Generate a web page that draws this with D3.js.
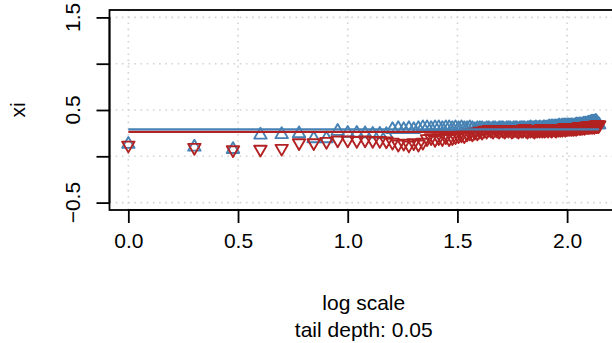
<!DOCTYPE html>
<html><head><meta charset="utf-8">
<script src="https://cdn.jsdelivr.net/npm/d3@7"></script>
<style>html,body{margin:0;padding:0;background:#fff;} svg{display:block;}</style>
</head><body>
<script>
// n = 1..140, x = log10(n)
const upperXi = [
0.13,0.10,0.075,0.23,0.235,0.245,0.19,0.19,0.27,0.25,
0.25,0.245,0.24,0.24,0.235,0.29,0.30,0.29,0.30,0.29,
0.30,0.31,0.31,0.30,0.31,0.31,0.30,0.31,0.31,0.30,
0.31,0.30,0.31,0.30,0.30,0.31,0.30,0.29,0.30,0.30,
0.30,0.29,0.30,0.30,0.29,0.30,0.30,0.29,0.30,0.30,
0.30,0.29,0.30,0.30,0.30,0.29,0.30,0.30,0.30,0.29,
0.30,0.30,0.30,0.30,0.29,0.30,0.30,0.31,0.30,0.30,
0.30,0.31,0.30,0.30,0.31,0.30,0.30,0.31,0.31,0.30,
0.31,0.31,0.32,0.31,0.32,0.32,0.31,0.32,0.32,0.32,
0.32,0.33,0.32,0.32,0.33,0.32,0.33,0.33,0.32,0.33,
0.33,0.33,0.32,0.33,0.33,0.33,0.32,0.33,0.33,0.34,
0.33,0.34,0.33,0.34,0.34,0.33,0.34,0.34,0.35,0.34,
0.35,0.35,0.34,0.35,0.36,0.35,0.36,0.36,0.37,0.36,
0.37,0.37,0.36,0.37,0.38,0.37,0.36,0.35,0.34,0.34];
const lowerXi = [
0.12,0.095,0.07,0.075,0.085,0.145,0.145,0.16,0.175,0.175,
0.17,0.175,0.17,0.17,0.165,0.15,0.13,0.14,0.12,0.145,
0.13,0.15,0.19,0.20,0.18,0.20,0.19,0.21,0.19,0.20,
0.21,0.22,0.23,0.22,0.24,0.25,0.24,0.26,0.25,0.27,
0.26,0.28,0.27,0.29,0.28,0.27,0.29,0.28,0.27,0.29,
0.28,0.27,0.29,0.28,0.29,0.27,0.28,0.29,0.28,0.27,
0.29,0.28,0.28,0.30,0.28,0.27,0.29,0.28,0.29,0.28,
0.27,0.29,0.28,0.29,0.28,0.30,0.28,0.29,0.28,0.29,
0.29,0.28,0.30,0.29,0.28,0.29,0.30,0.29,0.28,0.30,
0.29,0.30,0.29,0.30,0.29,0.30,0.31,0.29,0.30,0.30,
0.30,0.31,0.30,0.31,0.30,0.31,0.30,0.31,0.31,0.30,
0.31,0.31,0.32,0.31,0.31,0.32,0.31,0.32,0.32,0.31,
0.32,0.32,0.33,0.32,0.32,0.33,0.32,0.33,0.33,0.32,
0.33,0.33,0.32,0.33,0.34,0.33,0.33,0.34,0.33,0.34];
const upperLevel = 0.29;
const lowerLevel = 0.264;
const xTicks = [0, 0.5, 1.0, 1.5, 2.0];
const xTickLabels = ["0.0", "0.5", "1.0", "1.5", "2.0"];
const yTicks = [-0.5, 0, 0.5, 1.0, 1.5];
const yTickLabels = ["\u22120.5", "", "0.5", "", "1.5"];
const xLabel = "log scale";
const subLabel = "tail depth: 0.05";
const yLabel = "xi";

(function () {
const W = 612, H = 343;
const pL = 109.5, pR = 618, pT = 10, pB = 210;
const n = upperXi.length;
const xs = d3.range(1, n + 1).map(k => Math.log10(k));
const xMax = d3.max(xs);
const x = d3.scaleLinear().domain([-0.04 * xMax, xMax * 1.04]).range([pL, pR]);
const y = d3.scaleLinear().domain([-0.58, 1.58]).range([pB, pT]);

const svg = d3.select("body").append("svg").attr("width", W).attr("height", H);
const font = "'Liberation Sans', Arial, Helvetica, sans-serif";
const FS = 21;
const blue = "#4682B4", red = "#B22222";

// grid
const g = svg.append("g").attr("stroke", "#D3D3D3").attr("stroke-width", 1.6).attr("stroke-dasharray", "1.6,4.6");
g.selectAll(".gx").data(xTicks).join("line").attr("class", "gx")
  .attr("x1", d => x(d)).attr("x2", d => x(d)).attr("y1", pT).attr("y2", pB);
g.selectAll(".gy").data(yTicks).join("line").attr("class", "gy")
  .attr("x1", pL).attr("x2", pR).attr("y1", d => y(d)).attr("y2", d => y(d));

const r = 7.2;
const upPath = `M0,${-r}L${0.866*r},${0.5*r}L${-0.866*r},${0.5*r}Z`;
const downPath = `M0,${r}L${0.866*r},${-0.5*r}L${-0.866*r},${-0.5*r}Z`;

svg.append("g").selectAll("path").data(upperXi).join("path")
  .attr("d", upPath)
  .attr("transform", (d, i) => `translate(${x(xs[i])},${y(d)})`)
  .attr("fill", "none").attr("stroke", blue).attr("stroke-width", 1.9).attr("stroke-linejoin", "round");
svg.append("g").selectAll("path").data(lowerXi).join("path")
  .attr("d", downPath)
  .attr("transform", (d, i) => `translate(${x(xs[i])},${y(d)})`)
  .attr("fill", "none").attr("stroke", red).attr("stroke-width", 1.9).attr("stroke-linejoin", "round");

// level lines
svg.append("line").attr("x1", x(0)).attr("x2", x(xMax)).attr("y1", y(lowerLevel)).attr("y2", y(lowerLevel))
  .attr("stroke", red).attr("stroke-width", 2.2);
svg.append("line").attr("x1", x(0)).attr("x2", x(xMax)).attr("y1", y(upperLevel)).attr("y2", y(upperLevel))
  .attr("stroke", blue).attr("stroke-width", 2.2);

// axes
const xAxis = d3.axisBottom(x).tickValues(xTicks).tickFormat((d, i) => xTickLabels[i]).tickSize(13).tickPadding(10);
const gx = svg.append("g").attr("transform", `translate(0,${pB})`).call(xAxis);
gx.select(".domain").attr("d", `M${x(0)},0H${x(2)}`).attr("stroke-width", 1.8);
gx.selectAll(".tick line").attr("stroke-width", 1.8);
gx.selectAll("text").attr("font-family", font).attr("font-size", FS).attr("fill", "#000").attr("dy", "0.71em");

const yAxis = d3.axisLeft(y).tickValues(yTicks).tickFormat("").tickSize(13);
const gy = svg.append("g").attr("transform", `translate(${pL},0)`).call(yAxis);
gy.select(".domain").attr("d", `M0,${y(-0.5)}V${y(1.5)}`).attr("stroke-width", 1.8);
gy.selectAll(".tick line").attr("stroke-width", 1.8);
svg.append("g").selectAll("text").data(yTicks).join("text")
  .attr("transform", d => `translate(80,${y(d)}) rotate(-90)`)
  .attr("text-anchor", "middle").attr("font-family", font).attr("font-size", FS)
  .text((d, i) => yTickLabels[i]);

// box
svg.append("rect").attr("x", pL).attr("y", pT).attr("width", pR - pL).attr("height", pB - pT)
  .attr("fill", "none").attr("stroke", "#000").attr("stroke-width", 1.8);

// labels
svg.append("text").attr("x", (pL + pR) / 2).attr("y", 310).attr("text-anchor", "middle")
  .attr("font-family", font).attr("font-size", FS).text(xLabel);
svg.append("text").attr("x", (pL + pR) / 2).attr("y", 337).attr("text-anchor", "middle")
  .attr("font-family", font).attr("font-size", FS).text(subLabel);
svg.append("text").attr("transform", `translate(25,${(pT + pB) / 2}) rotate(-90)`).attr("text-anchor", "middle")
  .attr("font-family", font).attr("font-size", FS).text(yLabel);
})();
</script>
</body></html>
